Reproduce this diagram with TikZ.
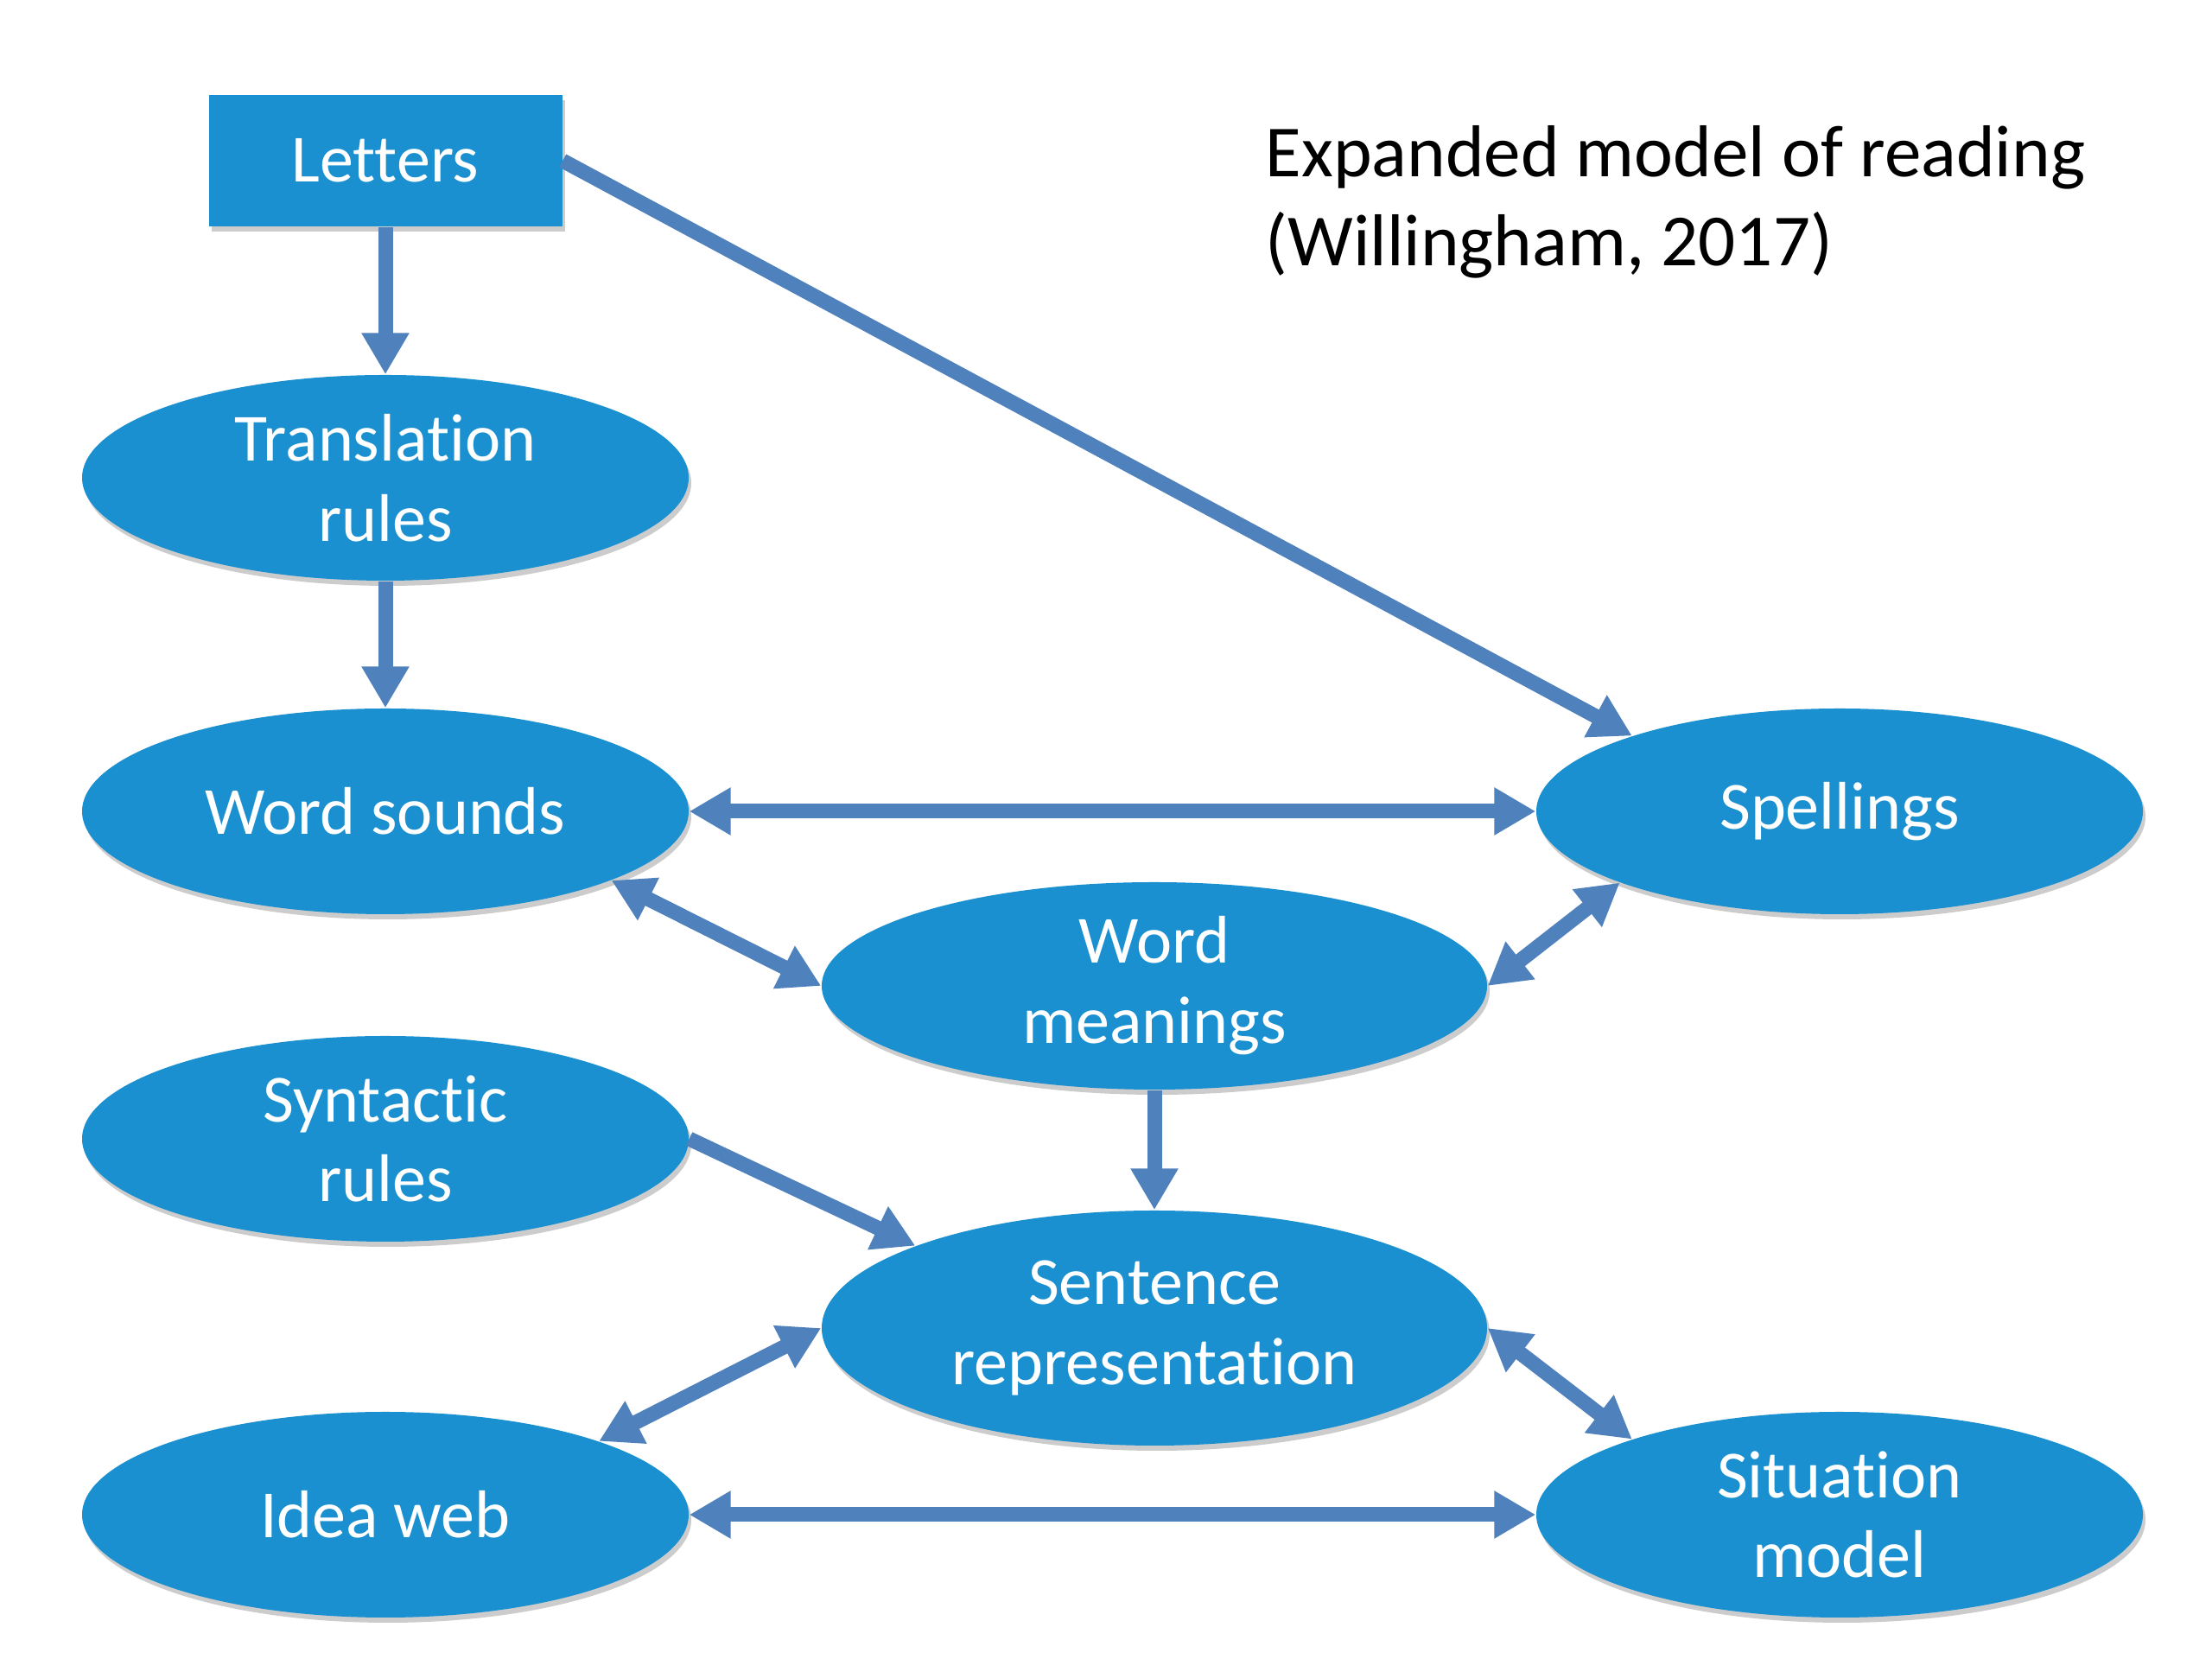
\documentclass[tikz,border=0pt]{standalone}
\usepackage{fontspec}
\setmainfont{Carlito}[Ligatures=NoCommon]
\usetikzlibrary{shapes.geometric,arrows.meta,shadows}
\definecolor{nodeblue}{RGB}{26,144,208}
\definecolor{arrowblue}{RGB}{79,129,189}
\tikzset{
  ovalnode/.style={ellipse, fill=nodeblue, text=white, align=center, inner sep=-4pt,
    minimum width=7.02cm, minimum height=2.38cm,
    font=\fontsize{22.2}{26.4}\selectfont,
    drop shadow={shadow xshift=0.03cm, shadow yshift=-0.06cm, opacity=0.2, fill=black}},
  boxnode/.style={rectangle, fill=nodeblue, text=white, inner sep=0pt,
    minimum width=4.09cm, minimum height=1.52cm,
    font=\fontsize{22.2}{26.4}\selectfont,
    drop shadow={shadow xshift=0.03cm, shadow yshift=-0.06cm, opacity=0.2, fill=black}},
  conn/.style={draw=arrowblue, line width=0.17cm,
    -{Triangle[width=0.52cm,length=0.48cm]}},
  biconn/.style={draw=arrowblue, line width=0.17cm,
    {Triangle[width=0.52cm,length=0.48cm]}-{Triangle[width=0.52cm,length=0.48cm]}},
}
\begin{document}
\begin{tikzpicture}
\useasboundingbox[fill=white] (0,0) rectangle (25.6,19.2);
\node[boxnode] (letters) at (4.46,17.34) {Letters};
\node[ovalnode] (trans) at (4.46,13.67) {Translation\\rules};
\node[ovalnode] (sounds) at (4.46,9.81) {Word sounds};
\node[ovalnode] (spell) at (21.29,9.81) {Spellings};
\node[ovalnode, minimum width=7.70cm, minimum height=2.40cm] (mean) at (13.36,7.79) {Word\\meanings};
\node[ovalnode] (synt) at (4.46,6.02) {Syntactic\\rules};
\node[ovalnode, minimum width=7.70cm, minimum height=2.72cm] (sent) at (13.36,3.83) {Sentence\\representation};
\node[anchor=base west, align=left, inner sep=0pt,
  font=\fontsize{24.2}{29.3}\selectfont] (title) at (14.64,16.12)
  {Expanded model of reading\\(Willingham, 2017)};
\node[ovalnode] (idea) at (4.46,1.67) {Idea web};
\node[ovalnode] (situ) at (21.29,1.67) {Situation\\model};

\draw[conn] (letters.south) -- (trans.north);
\draw[conn] (trans.south) -- (sounds.north);
\draw[conn] (letters.east) -- (spell.160);
\draw[biconn] (sounds.east) -- (spell.west);
\draw[biconn] (sounds.-17) -- (mean.west);
\draw[biconn] (mean.east) -- (spell.198);
\draw[conn] (mean.south) -- (sent.north);
\draw[conn] (synt.east) -- (sent.161);
\draw[biconn] (idea.19) -- (sent.west);
\draw[biconn] (sent.east) -- (situ.160);
\draw[biconn] (idea.east) -- (situ.west);
\end{tikzpicture}
\end{document}
